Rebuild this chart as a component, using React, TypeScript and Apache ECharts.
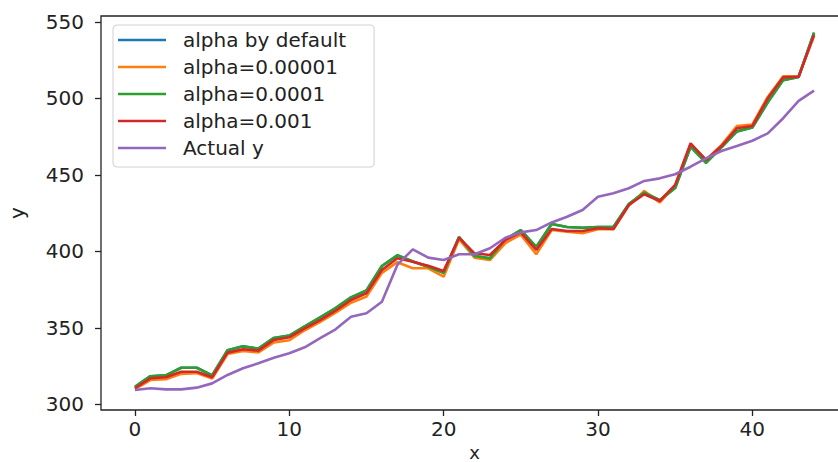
import React, { useEffect, useRef } from "react";
import * as echarts from "echarts";

const xValues: number[] = Array.from({ length: 45 }, (_, i) => i);

const alphaDefault: number[] = [
  311.5, 318.5, 319, 324, 324, 319, 335.5, 338, 336.5, 343.5,
  345, 351, 357, 363, 370, 374.5, 390.5, 397.5, 393.5, 390,
  386, 409.5, 397, 395.5, 408, 414, 403, 418, 416, 415.5,
  416, 416, 431, 438.5, 433.5, 441.5, 468.5, 458, 468, 478.5,
  481, 497.5, 512, 514, 543,
];

const alpha00001: number[] = [
  310, 316, 316.5, 320, 320.5, 317, 333, 335, 334, 340.5,
  342, 348.5, 354, 360, 366.5, 370.5, 386, 393, 389, 389,
  383.5, 408, 396, 394.4, 405.5, 411, 398.2, 414, 413, 412,
  414.5, 414.5, 430, 439.5, 432, 443, 470, 460, 469.5, 482,
  483, 501, 514.5, 514.5, 541,
];

const alpha0001: number[] = [
  311.5, 318.5, 319, 324, 324, 319, 335.5, 338, 336.5, 343.5,
  345, 351, 357, 363, 370, 374.5, 390.5, 397.5, 393.5, 390,
  386, 409.5, 397, 395.5, 408, 414, 403, 418, 416, 415.5,
  416, 416, 431, 438.5, 433.5, 441.5, 468.5, 458, 468, 478.5,
  481, 497.5, 512, 514, 543,
];

const alpha001: number[] = [
  310.6, 317.1, 317.8, 321.4, 321.4, 317.8, 333.9, 336.1, 335.2, 342.2,
  343.9, 349.8, 355.2, 361.3, 368.3, 372.7, 387.9, 395.6, 393.3, 390.7,
  387.3, 409, 398.8, 397.7, 407.5, 412.5, 401, 414.7, 413.4, 413.4,
  415.2, 414.7, 430.4, 437.4, 433, 443.5, 470.7, 459.8, 468.9, 480.5,
  482, 500.1, 513.8, 514.2, 541.5,
];

const actualY: number[] = [
  309.5, 310.6, 309.9, 309.9, 311, 313.8, 319.3, 323.7, 326.9, 330.5,
  333.5, 337.4, 343.3, 349.1, 357.4, 359.6, 367.2, 391.2, 401.4, 396,
  394.4, 398.2, 398.2, 402.1, 409, 412.5, 414, 419, 422.7, 427.1,
  435.8, 438, 441.3, 446.1, 447.8, 450.5, 455.4, 460.9, 465.7, 468.9,
  472.4, 477.2, 487.1, 498.4, 505.1,
];

const seriesNames: string[] = [
  "alpha by default",
  "alpha=0.00001",
  "alpha=0.0001",
  "alpha=0.001",
  "Actual y",
];
const seriesColors: string[] = ["#1f77b4", "#ff7f0e", "#2ca02c", "#d62728", "#9467bd"];
const seriesData: number[][] = [alphaDefault, alpha00001, alpha0001, alpha001, actualY];

const xTicks: number[] = [0, 10, 20, 30, 40];
const yTicks: number[] = [300, 350, 400, 450, 500, 550];

const FONT = "DejaVu Sans";

export default function App() {
  const ref = useRef<HTMLDivElement>(null);
  useEffect(() => {
    if (!ref.current) return;
    const chart = echarts.init(ref.current, undefined, { renderer: "svg" });
    chart.setOption({
      animation: false,
      backgroundColor: "#ffffff",
      grid: {
        left: 101,
        top: 16,
        width: 747,
        height: 394,
        show: true,
        borderColor: "#222",
        borderWidth: 1.3,
        backgroundColor: "transparent",
        containLabel: false,
        outerBoundsMode: "none",
      },
      legend: {
        orient: "vertical",
        left: 113,
        top: 25,
        data: seriesNames,
        icon: "path://M0,0 L48,0 L48,2.5 L0,2.5 Z",
        itemWidth: 48,
        itemHeight: 2.5,
        itemGap: 7,
        padding: [5, 28, 9, 5],
        backgroundColor: "rgba(255,255,255,0.8)",
        borderColor: "#d0d0d0",
        borderWidth: 1,
        borderRadius: 4,
        textStyle: {
          fontFamily: FONT,
          fontSize: 20,
          lineHeight: 20,
          color: "#222",
          padding: [0, 0, 0, 12],
        },
      },
      xAxis: {
        type: "value",
        min: -2.2,
        max: 46.2,
        name: "x",
        nameLocation: "middle",
        nameGap: 28,
        nameTextStyle: { fontFamily: FONT, fontSize: 18, color: "#222" },
        axisLine: { show: false, onZero: false },
        axisTick: {
          show: true,
          length: 6,
          customValues: xTicks,
          lineStyle: { color: "#222", width: 1.3 },
        },
        axisLabel: {
          customValues: xTicks,
          margin: 9,
          fontFamily: FONT,
          fontSize: 20,
          color: "#222",
        },
        splitLine: { show: false },
      },
      yAxis: {
        type: "value",
        min: 296.4,
        max: 553.9,
        name: "y",
        nameLocation: "middle",
        nameGap: 74,
        nameTextStyle: { fontFamily: FONT, fontSize: 20, color: "#222" },
        axisLine: { show: false, onZero: false },
        axisTick: {
          show: true,
          length: 6,
          customValues: yTicks,
          lineStyle: { color: "#222", width: 1.3 },
        },
        axisLabel: {
          customValues: yTicks,
          margin: 17,
          fontFamily: FONT,
          fontSize: 20,
          color: "#222",
        },
        splitLine: { show: false },
      },
      series: seriesNames.map((name, i) => ({
        name,
        type: "line",
        data: xValues.map((x, j) => [x, seriesData[i][j]]),
        showSymbol: false,
        symbol: "none",
        color: seriesColors[i],
        lineStyle: { color: seriesColors[i], width: 2.6 },
        z: 2 + i,
      })),
    });
    return () => chart.dispose();
  }, []);
  return (
    <div
      ref={ref}
      style={{ position: "absolute", left: 0, top: 0, width: 838, height: 462, overflow: "hidden" }}
    />
  );
}
